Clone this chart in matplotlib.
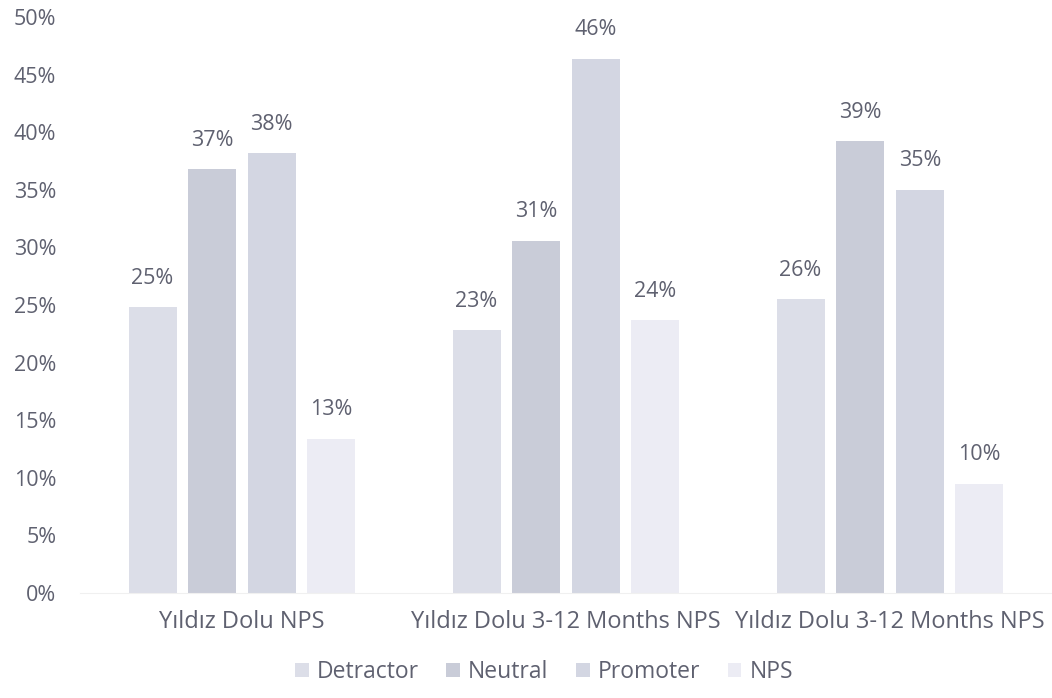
import matplotlib

matplotlib.use("Agg")

import matplotlib.pyplot as plt
import numpy as np

categories = ["Yıldız Dolu NPS", "Yıldız Dolu 3-12 Months NPS", "Yıldız Dolu 3-12 Months NPS"]
series = ["Detractor", "Neutral", "Promoter", "NPS"]
detractor = [24.8, 22.8, 25.5]
neutral = [36.8, 30.6, 39.2]
promoter = [38.2, 46.4, 35.0]
nps = [13.4, 23.7, 9.5]
labels = [
    ["25%", "23%", "26%"],
    ["37%", "31%", "39%"],
    ["38%", "46%", "35%"],
    ["13%", "24%", "10%"],
]
colors = ["#dcdee8", "#c9ccd8", "#d3d6e2", "#ececf4"]
text_color = "#5f6170"

plt.rcParams["font.family"] = ["Open Sans", "DejaVu Sans"]

fig = plt.figure(figsize=(10.52, 6.98), dpi=100)
ax = fig.add_axes([0.076, 0.1504, 0.924, 0.8252])

x = np.arange(len(categories))
step = 0.184
width = 0.148
for i, (name, vals) in enumerate(zip(series, [detractor, neutral, promoter, nps])):
    pos = x + (i - 1.5) * step
    ax.bar(pos, vals, width=width, color=colors[i], label=name, zorder=2)
    for px, v, lab in zip(pos, vals, labels[i]):
        ax.text(px, v + 1.6, lab, ha="center", va="bottom", fontsize=15.5, color=text_color)

ax.set_xlim(-0.5, 2.5)
ax.set_ylim(0, 50)
ax.set_yticks(np.arange(0, 51, 5))
ax.set_yticklabels([f"{t}%" for t in range(0, 51, 5)])
ax.set_xticks(x)
ax.set_xticklabels(categories, fontsize=17)
ax.tick_params(axis="both", length=0, labelcolor=text_color)
ax.tick_params(axis="y", pad=17, labelsize=15.5)
ax.tick_params(axis="x", pad=12)
for side in ["top", "right", "left"]:
    ax.spines[side].set_visible(False)
ax.spines["bottom"].set_color("#f0f0f0")

fig.legend(
    loc="center",
    bbox_to_anchor=(0.517, 0.037),
    ncol=4,
    frameon=False,
    fontsize=16.5,
    labelcolor=text_color,
    handlelength=0.6,
    handleheight=0.6,
    handletextpad=0.35,
    columnspacing=1.2,
)

fig.savefig("out.png", dpi=100, facecolor="white")
